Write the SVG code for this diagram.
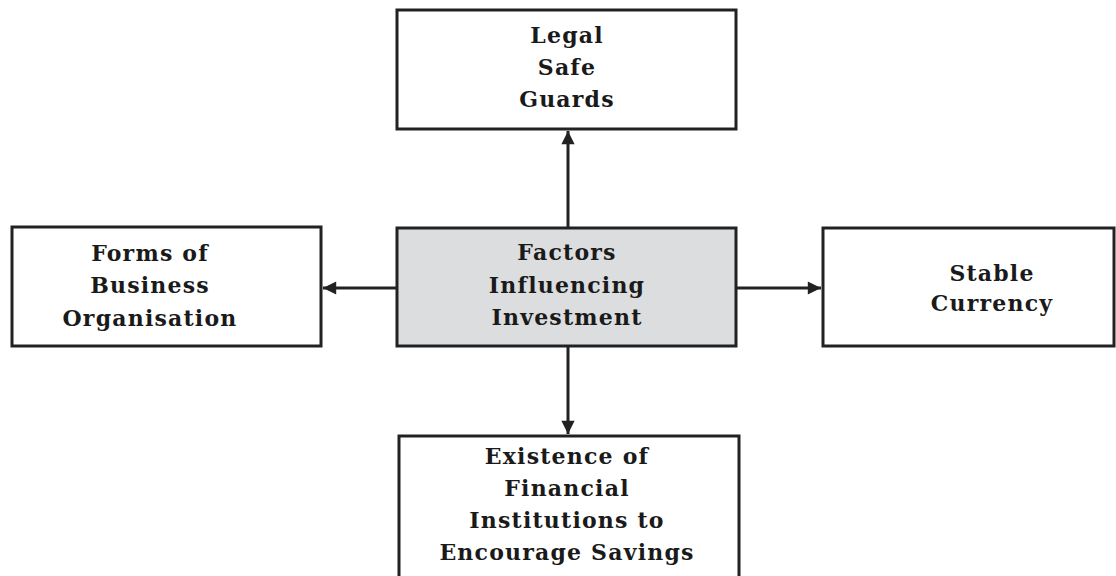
<svg xmlns="http://www.w3.org/2000/svg" width="1116" height="576" viewBox="0 0 1116 576">
  <style>
    .box { fill: #ffffff; stroke: #222222; stroke-width: 3; }
    .hub { fill: #dcdddf; stroke: #222222; stroke-width: 3; }
    .label { font-family: "DejaVu Serif", "Liberation Serif", serif; font-weight: bold; font-size: 22px; fill: #1a1a1a; text-anchor: middle; letter-spacing: 1.2px; }
    .link { stroke: #222222; stroke-width: 3; fill: none; marker-end: url(#head); }
  </style>
  <defs>
    <marker id="head" viewBox="0 0 10 10" refX="10" refY="5" markerWidth="5" markerHeight="4.4" markerUnits="strokeWidth" orient="auto">
      <path d="M0,0 L10,5 L0,10 Z" fill="#222222"/>
    </marker>
  </defs>

  <g id="connectors">
    <line class="link" x1="568" y1="228" x2="568" y2="131"/>
    <line class="link" x1="568" y1="346" x2="568" y2="434"/>
    <line class="link" x1="397" y1="288" x2="323" y2="288"/>
    <line class="link" x1="736" y1="288" x2="821" y2="288"/>
  </g>

  <g id="legal-safe-guards">
    <rect class="box" x="397" y="10" width="339" height="119"/>
    <text class="label" x="567" y="43">Legal</text>
    <text class="label" x="567" y="75">Safe</text>
    <text class="label" x="567" y="107">Guards</text>
  </g>

  <g id="factors-influencing-investment">
    <rect class="hub" x="397" y="228" width="339" height="118"/>
    <text class="label" x="567" y="260">Factors</text>
    <text class="label" x="567" y="293">Influencing</text>
    <text class="label" x="567" y="325">Investment</text>
  </g>

  <g id="forms-of-business">
    <rect class="box" x="12" y="227" width="309" height="119"/>
    <text class="label" x="150" y="261">Forms of</text>
    <text class="label" x="150" y="293">Business</text>
    <text class="label" x="150" y="326">Organisation</text>
  </g>

  <g id="stable-currency">
    <rect class="box" x="823" y="228" width="291" height="118"/>
    <text class="label" x="992" y="281">Stable</text>
    <text class="label" x="992" y="311">Currency</text>
  </g>

  <g id="financial-institutions">
    <rect class="box" x="399" y="436" width="340" height="150"/>
    <text class="label" x="567" y="464">Existence of</text>
    <text class="label" x="567" y="496">Financial</text>
    <text class="label" x="567" y="528">Institutions to</text>
    <text class="label" x="567" y="560">Encourage Savings</text>
  </g>
</svg>
